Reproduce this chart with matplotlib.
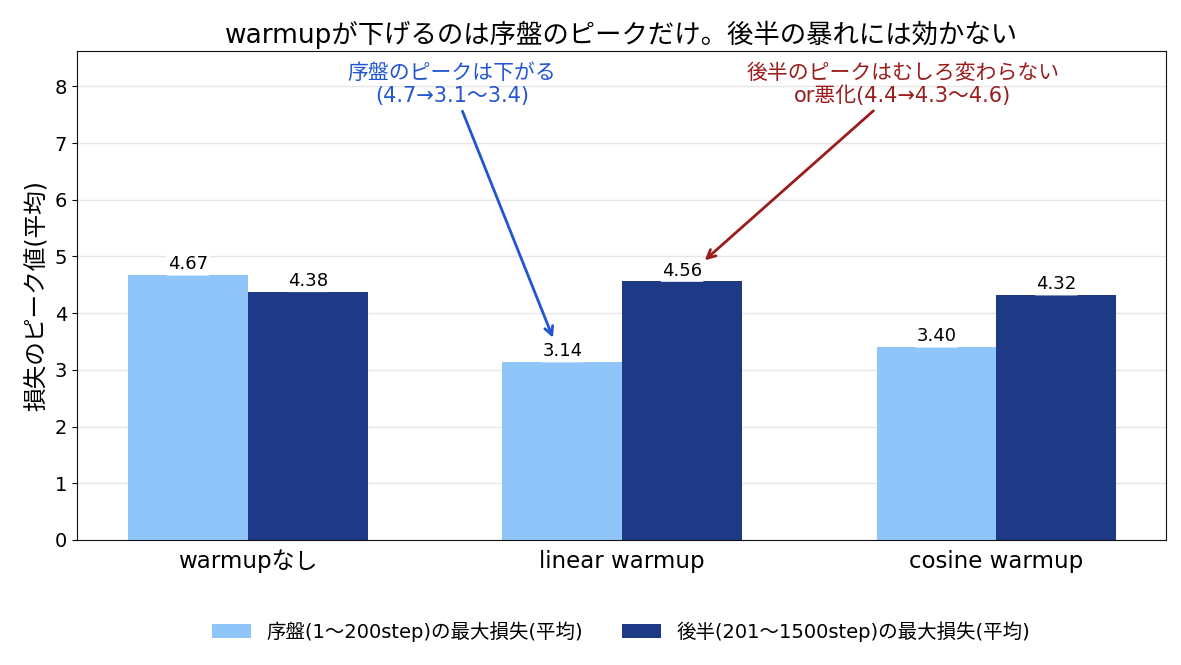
import numpy as np
import matplotlib.pyplot as plt

plt.rcParams['font.family'] = ['DejaVu Sans', 'Noto Sans CJK JP']

# Data
categories = ['warmupなし', 'linear warmup', 'cosine warmup']
early_peak = [4.67, 3.14, 3.40]   # 序盤(1〜200step)
late_peak = [4.38, 4.56, 4.32]    # 後半(201〜1500step)
series_labels = ['序盤(1〜200step)の最大損失(平均)', '後半(201〜1500step)の最大損失(平均)']

# Colors
c_early = '#90c5f9'
c_late = '#1e3a86'
c_blue_note = '#2255d0'
c_red_note = '#9b1c1c'

fig, ax = plt.subplots(figsize=(11.81, 6.65), dpi=100)
fig.subplots_adjust(left=0.065, right=0.987, top=0.923, bottom=0.188)

x = np.arange(len(categories))
w = 0.32

bars1 = ax.bar(x - w/2, early_peak, w, color=c_early, label=series_labels[0], zorder=2)
bars2 = ax.bar(x + w/2, late_peak, w, color=c_late, label=series_labels[1], zorder=2)

# Value labels
for bars in (bars1, bars2):
    for b in bars:
        h = b.get_height()
        ax.text(b.get_x() + b.get_width()/2, h + 0.03, f'{h:.2f}', ha='center', va='bottom',
                fontsize=13, zorder=4,
                bbox=dict(boxstyle='round,pad=0.12', fc='white', ec='none', alpha=0.9))

# Annotations
ax.annotate('序盤のピークは下がる\n(4.7→3.1〜3.4)', xy=(0.818, 3.52), xytext=(0.545, 8.03),
            ha='center', va='center', fontsize=15, color=c_blue_note, linespacing=1.15,
            arrowprops=dict(arrowstyle='->', color=c_blue_note, lw=2))
ax.annotate('後半のピークはむしろ変わらない\nor悪化(4.4→4.3〜4.6)', xy=(1.215, 4.9), xytext=(1.75, 8.03),
            ha='center', va='center', fontsize=15, color=c_red_note, linespacing=1.15,
            arrowprops=dict(arrowstyle='->', color=c_red_note, lw=2))

ax.set_xlim(-0.457, 2.452)
ax.set_ylim(0, 8.62)
ax.set_xticks(x)
ax.set_xticklabels(categories, fontsize=16.5)
ax.tick_params(axis='y', labelsize=14)
ax.tick_params(axis='x', length=0, pad=7)
ax.set_ylabel('損失のピーク値(平均)', fontsize=17, labelpad=4)
ax.set_title('warmupが下げるのは序盤のピークだけ。後半の暴れには効かない', fontsize=19, pad=6)

ax.yaxis.grid(True, color='#e6e6e6', lw=1, zorder=0)
ax.set_axisbelow(True)
for s in ax.spines.values():
    s.set_color('#111111')

ax.legend(loc='upper center', bbox_to_anchor=(0.5, -0.13), ncol=2, frameon=False,
          fontsize=14, handlelength=2.0, columnspacing=2.0)

fig.savefig('out.png', dpi=100)
